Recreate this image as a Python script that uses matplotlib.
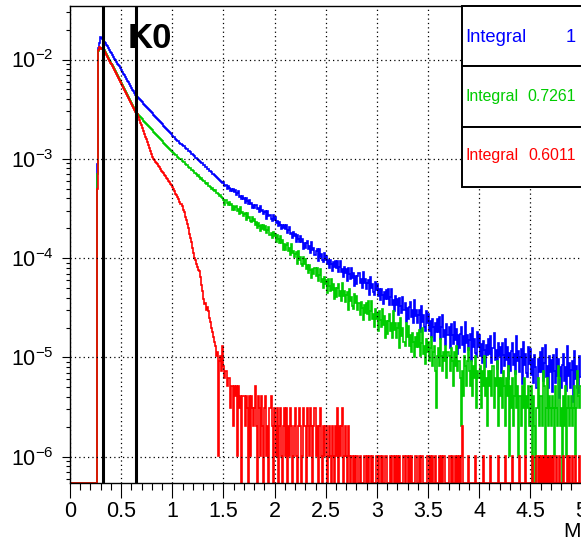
import numpy as np
import matplotlib
matplotlib.use("Agg")
import matplotlib.pyplot as plt
from matplotlib.patches import Rectangle
from matplotlib.ticker import MultipleLocator, LogLocator, FuncFormatter, NullFormatter

plt.rcParams['font.family'] = ['Liberation Sans', 'DejaVu Sans']

nan = float('nan')

# histogram binning: 500 bins of 0.01 from 0 to 5, filled from bin 26 (0.26) on
x_lo, x_hi, n_bins = 0.0, 5.0, 500
first_filled = 26

# log10 of bin contents, one row per 0.1 (first row 0.26-0.29), nan = empty bin
blue_log10 = [
    -3.05, -1.88, -1.83, -1.77,
    -1.78, -1.79, -1.81, -1.82, -1.83, -1.85, -1.86, -1.88, -1.90, -1.92,
    -1.93, -1.95, -1.97, -1.99, -2.00, -2.02, -2.04, -2.06, -2.07, -2.09,
    -2.11, -2.13, -2.15, -2.16, -2.18, -2.20, -2.22, -2.23, -2.25, -2.27,
    -2.29, -2.31, -2.32, -2.34, -2.36, -2.38, -2.39, -2.40, -2.41, -2.42,
    -2.43, -2.45, -2.46, -2.47, -2.48, -2.49, -2.50, -2.51, -2.52, -2.53,
    -2.54, -2.56, -2.57, -2.58, -2.59, -2.60, -2.61, -2.62, -2.63, -2.64,
    -2.65, -2.67, -2.68, -2.69, -2.70, -2.71, -2.72, -2.73, -2.74, -2.75,
    -2.77, -2.78, -2.78, -2.80, -2.81, -2.82, -2.82, -2.84, -2.85, -2.86,
    -2.87, -2.87, -2.89, -2.90, -2.90, -2.92, -2.92, -2.93, -2.95, -2.95,
    -2.96, -2.97, -2.99, -2.99, -3.00, -3.01, -3.02, -3.03, -3.04, -3.04,
    -3.06, -3.06, -3.08, -3.08, -3.10, -3.10, -3.12, -3.12, -3.13, -3.15,
    -3.15, -3.16, -3.17, -3.18, -3.19, -3.20, -3.21, -3.22, -3.23, -3.24,
    -3.23, -3.27, -3.26, -3.30, -3.27, -3.29, -3.32, -3.30, -3.32, -3.30,
    -3.33, -3.31, -3.36, -3.34, -3.32, -3.38, -3.37, -3.40, -3.37, -3.40,
    -3.39, -3.44, -3.39, -3.42, -3.45, -3.41, -3.45, -3.44, -3.50, -3.46,
    -3.50, -3.47, -3.46, -3.51, -3.50, -3.54, -3.48, -3.53, -3.52, -3.56,
    -3.54, -3.53, -3.61, -3.53, -3.58, -3.57, -3.61, -3.63, -3.57, -3.62,
    -3.59, -3.65, -3.63, -3.68, -3.64, -3.67, -3.71, -3.67, -3.70, -3.67,
    -3.71, -3.67, -3.75, -3.72, -3.69, -3.76, -3.75, -3.80, -3.74, -3.78,
    -3.76, -3.84, -3.77, -3.81, -3.84, -3.78, -3.84, -3.81, -3.91, -3.85,
    -3.90, -3.85, -3.83, -3.91, -3.88, -3.95, -3.84, -3.92, -3.90, -3.97,
    -3.93, -3.91, -4.03, -3.91, -3.99, -3.96, -4.02, -4.04, -3.95, -4.02,
    -3.98, -4.06, -4.02, -4.10, -4.02, -4.06, -4.13, -4.04, -4.09, -4.03,
    -4.10, -4.03, -4.14, -4.09, -4.03, -4.14, -4.11, -4.19, -4.09, -4.15,
    -4.11, -4.23, -4.10, -4.16, -4.21, -4.10, -4.20, -4.15, -4.28, -4.18,
    -4.26, -4.18, -4.15, -4.25, -4.21, -4.30, -4.14, -4.25, -4.21, -4.31,
    -4.25, -4.22, -4.37, -4.19, -4.30, -4.26, -4.34, -4.37, -4.24, -4.32,
    -4.26, -4.38, -4.31, -4.42, -4.31, -4.37, -4.46, -4.34, -4.41, -4.32,
    -4.41, -4.31, -4.47, -4.39, -4.31, -4.47, -4.42, -4.53, -4.38, -4.47,
    -4.41, -4.57, -4.40, -4.48, -4.55, -4.39, -4.52, -4.45, -4.64, -4.50,
    -4.61, -4.49, -4.44, -4.59, -4.52, -4.65, -4.42, -4.58, -4.52, -4.65,
    -4.57, -4.52, -4.74, -4.48, -4.64, -4.57, -4.69, -4.73, -4.53, -4.65,
    -4.56, -4.73, -4.63, -4.79, -4.61, -4.69, -4.83, -4.65, -4.74, -4.61,
    -4.74, -4.59, -4.81, -4.69, -4.57, -4.79, -4.72, -4.87, -4.66, -4.77,
    -4.69, -4.91, -4.66, -4.77, -4.86, -4.64, -4.82, -4.71, -4.97, -4.77,
    -4.91, -4.76, -4.69, -4.87, -4.78, -4.95, -4.64, -4.85, -4.77, -4.93,
    -4.82, -4.76, -5.04, -4.70, -4.90, -4.81, -4.96, -5.00, -4.74, -4.90,
    -4.77, -4.99, -4.86, -5.06, -4.83, -4.93, -5.10, -4.87, -4.98, -4.81,
    -4.97, -4.78, -5.06, -4.91, -4.75, -5.03, -4.93, -5.12, -4.85, -4.99,
    -4.89, -5.16, -4.85, -4.98, -5.09, -4.81, -5.03, -4.89, -5.22, -4.96,
    -5.14, -4.94, -4.85, -5.08, -4.97, -5.17, -4.78, -5.04, -4.94, -5.15,
    -5.00, -4.92, -5.27, -4.84, -5.08, -4.97, -5.16, -5.20, -4.89, -5.07,
    -4.92, -5.18, -5.02, -5.26, -4.98, -5.10, -5.31, -5.02, -5.15, -4.95,
    -5.15, -4.91, -5.24, -5.06, -4.87, -5.20, -5.09, -5.31, -4.99, -5.15,
    -5.03, -5.35, -4.98, -5.14, -5.26, -4.92, -5.19, -5.02, -5.41, -5.10,
    -5.31, -5.08, -4.97, -5.24, -5.10, -5.34, -4.88, -5.19, -5.06, -5.31,
    -5.13, -5.04, -5.45, -4.94, -5.22, -5.09, -5.31, -5.36, -4.99, -5.20,
]

green_log10 = [
    -3.15, -1.91, -1.89, -1.88,
    -1.88, -1.89, -1.90, -1.90, -1.92, -1.94, -1.96, -1.98, -2.00, -2.02,
    -2.04, -2.06, -2.08, -2.10, -2.12, -2.14, -2.16, -2.18, -2.20, -2.22,
    -2.24, -2.26, -2.28, -2.30, -2.32, -2.34, -2.36, -2.38, -2.40, -2.42,
    -2.44, -2.46, -2.48, -2.50, -2.52, -2.55, -2.56, -2.57, -2.58, -2.59,
    -2.60, -2.62, -2.63, -2.64, -2.65, -2.66, -2.67, -2.68, -2.69, -2.70,
    -2.71, -2.73, -2.74, -2.75, -2.76, -2.77, -2.78, -2.79, -2.80, -2.81,
    -2.82, -2.84, -2.85, -2.86, -2.87, -2.88, -2.89, -2.90, -2.91, -2.92,
    -2.93, -2.94, -2.95, -2.96, -2.96, -2.98, -2.99, -3.00, -3.00, -3.02,
    -3.03, -3.03, -3.05, -3.06, -3.06, -3.08, -3.09, -3.09, -3.11, -3.11,
    -3.12, -3.14, -3.14, -3.15, -3.17, -3.16, -3.18, -3.20, -3.19, -3.21,
    -3.22, -3.22, -3.24, -3.25, -3.24, -3.27, -3.27, -3.28, -3.30, -3.29,
    -3.31, -3.32, -3.31, -3.34, -3.34, -3.35, -3.37, -3.36, -3.38, -3.39,
    -3.41, -3.46, -3.41, -3.44, -3.47, -3.43, -3.47, -3.45, -3.52, -3.48,
    -3.52, -3.49, -3.48, -3.53, -3.51, -3.56, -3.49, -3.55, -3.54, -3.58,
    -3.56, -3.55, -3.62, -3.55, -3.60, -3.59, -3.63, -3.64, -3.59, -3.63,
    -3.61, -3.67, -3.64, -3.70, -3.65, -3.68, -3.73, -3.67, -3.71, -3.67,
    -3.72, -3.68, -3.75, -3.72, -3.69, -3.77, -3.75, -3.80, -3.74, -3.78,
    -3.76, -3.84, -3.77, -3.81, -3.85, -3.78, -3.85, -3.82, -3.92, -3.86,
    -3.92, -3.87, -3.85, -3.93, -3.90, -3.97, -3.86, -3.95, -3.93, -3.99,
    -3.96, -3.94, -4.06, -3.93, -4.02, -3.99, -4.06, -4.08, -3.99, -4.06,
    -4.01, -4.11, -4.07, -4.15, -4.07, -4.12, -4.20, -4.11, -4.16, -4.10,
    -4.18, -4.10, -4.23, -4.17, -4.11, -4.24, -4.21, -4.30, -4.19, -4.26,
    -4.22, -4.35, -4.21, -4.28, -4.33, -4.21, -4.32, -4.26, -4.41, -4.30,
    -4.39, -4.30, -4.26, -4.38, -4.33, -4.43, -4.25, -4.38, -4.33, -4.44,
    -4.37, -4.34, -4.52, -4.31, -4.43, -4.39, -4.48, -4.51, -4.36, -4.45,
    -4.38, -4.52, -4.45, -4.57, -4.44, -4.50, -4.62, -4.47, -4.55, -4.45,
    -4.56, -4.43, -4.62, -4.53, -4.43, -4.61, -4.56, -4.69, -4.51, -4.61,
    -4.55, -4.73, -4.53, -4.62, -4.69, -4.51, -4.67, -4.58, -4.80, -4.63,
    -4.76, -4.63, -4.56, -4.73, -4.65, -4.80, -4.53, -4.72, -4.65, -4.80,
    -4.70, -4.65, -4.91, -4.60, -4.78, -4.70, -4.84, -4.88, -4.65, -4.79,
    -4.68, -4.88, -4.77, -4.95, -4.75, -4.84, -5.00, -4.79, -4.90, -4.75,
    -4.90, -4.72, -4.99, -4.85, -4.70, -4.97, -4.88, -5.07, -4.81, -4.95,
    -4.84, -5.04, -4.91, -4.79, -5.09, -4.95, -4.88, -5.14, -5.51, -4.99,
    -4.91, -5.09, -4.81, -4.99, -5.14, -4.95, -5.04, -4.88, -5.21, -4.95,
    -4.99, -5.14, -4.91, -5.04, -5.29, -4.95, -5.09, -4.88, -5.14, -5.04,
    -5.04, -5.21, -5.69, -5.14, -5.39, -4.99, -5.09, -5.29, -5.04, -4.91,
    -5.14, -5.29, -5.04, -5.39, -5.09, -5.21, -4.99, -5.51, -5.14, -5.21,
    -5.21, -5.09, -5.51, -5.14, -5.29, -4.99, -5.39, -5.21, -5.69, -5.14,
    -5.29, -5.14, -5.39, -5.09, -5.51, -5.21, -5.29, -5.04, -5.69, -5.21,
    -5.39, -5.21, -5.51, -5.14, -5.29, -5.69, -5.21, -5.39, -5.09, -5.99,
    -5.29, -5.51, -5.21, -5.69, -5.39, -5.14, -5.51, -5.29, -5.99, -5.39,
    -5.39, -5.69, -5.29, -5.51, -5.21, -5.99, -5.39, -5.51, -5.29, -5.69,
    -5.51, -5.29, nan, -5.39, -5.69, nan, -5.51, -5.21, -5.69, -5.39,
    -5.39, -5.69, -5.14, -5.29, -5.99, -5.51, -5.21, -5.69, -5.39, -5.51,
    -5.69, -5.39, -5.51, -5.99, -5.29, -5.51, -5.69, -5.09, -5.21, -5.69,
    -5.51, nan, -5.39, -5.69, -5.29, -5.99, -5.51, -5.39, -5.69, -5.51,
    -5.39, -5.69, -5.51, -5.29, -5.99, -5.51, -5.14, -5.39, -5.51, -5.29,
]

red_log10 = [
    -3.30, -1.90, -1.87, -1.88,
    -1.89, -1.89, -1.90, -1.91, -1.93, -1.95, -1.97, -1.99, -2.01, -2.03,
    -2.05, -2.07, -2.09, -2.11, -2.13, -2.15, -2.17, -2.19, -2.21, -2.23,
    -2.25, -2.27, -2.29, -2.31, -2.33, -2.35, -2.37, -2.39, -2.41, -2.43,
    -2.45, -2.47, -2.49, -2.51, -2.53, -2.55, -2.58, -2.61, -2.64, -2.66,
    -2.69, -2.72, -2.75, -2.78, -2.80, -2.83, -2.86, -2.89, -2.92, -2.95,
    -2.98, -3.00, -3.01, -3.03, -3.04, -3.05, -3.07, -3.08, -3.10, -3.12,
    -3.13, -3.14, -3.16, -3.17, -3.19, -3.20, -3.22, -3.23, -3.25, -3.26,
    -3.28, -3.30, -3.32, -3.35, -3.36, -3.38, -3.40, -3.43, -3.45, -3.48,
    -3.52, -3.54, -3.59, -3.62, -3.66, -3.70, -3.76, -3.80, -3.84, -3.90,
    -3.95, -4.00, -4.02, -4.06, -4.09, -4.12, -4.13, -4.19, -4.27, -4.33,
    -4.41, -4.46, -4.45, -4.52, -4.49, -4.53, -4.60, -4.64, -4.70, -4.74,
    -4.79, -4.84, -4.88, -4.99, -4.95, -5.99, -5.04, -4.99, -5.14, -4.88,
    -5.09, -5.21, -5.14, -5.29, -5.21, -5.21, -5.51, -5.29, -5.29, -5.69,
    -5.29, -5.39, -5.29, -5.99, -5.29, -5.51, -5.39, nan, -5.39, -5.39,
    -5.39, -5.69, -5.39, -5.51, nan, -5.39, -5.99, -5.39, -5.51, -5.69,
    -5.51, -5.29, -5.69, nan, -5.39, -5.51, -5.99, -5.39, -5.69, nan,
    -5.51, -5.39, -5.99, -5.69, nan, -5.51, -5.39, -5.69, nan, -5.51,
    -5.69, -5.99, -5.51, nan, -5.69, -5.51, -5.99, nan, -5.69, -5.51,
    -5.99, -5.51, nan, -5.69, -5.99, -5.51, -5.69, nan, -5.99, -5.69,
    -5.51, -5.99, nan, -5.69, -5.51, -5.69, nan, -5.99, -5.51, -5.69,
    -5.69, nan, -5.51, -5.69, -5.99, -5.51, -5.69, nan, -5.69, -5.51,
    -5.99, -5.69, nan, -5.69, -5.51, -5.99, nan, -5.69, -5.99, -5.69,
    -5.69, nan, -5.99, -5.69, -5.99, nan, -5.69, -5.99, nan, -5.69,
    -5.99, -5.51, nan, -5.69, -5.99, -5.69, -5.51, nan, -5.99, -5.69,
    -5.99, nan, -5.69, -5.99, nan, -5.99, -5.99, nan, -5.99, nan,
    -5.99, -5.99, nan, -5.99, nan, nan, nan, -5.99, -5.99, nan,
    -5.99, nan, -5.99, -5.99, nan, -5.99, nan, nan, nan, -5.99,
    -5.99, nan, -5.99, -5.99, nan, -5.99, nan, nan, -5.99, -5.99,
    nan, nan, nan, -5.99, nan, -5.99, -5.99, nan, -5.99, nan,
    -5.99, nan, -5.99, nan, nan, nan, -5.99, nan, -5.99, -5.99,
    nan, -5.99, nan, -5.99, nan, nan, nan, -5.99, -5.99, nan,
    nan, -5.99, nan, -5.99, -5.99, nan, nan, nan, nan, -5.99,
    -5.99, nan, -5.99, nan, -5.99, nan, nan, -5.99, nan, nan,
    nan, -5.99, nan, -5.99, nan, -5.99, -5.99, nan, nan, nan,
    -5.99, -5.99, nan, -5.99, nan, nan, -5.99, nan, -5.99, nan,
    -5.99, nan, -5.99, -5.69, nan, nan, nan, nan, nan, -5.99,
    nan, nan, nan, nan, nan, nan, -5.99, nan, nan, nan,
    nan, nan, nan, nan, -5.99, nan, nan, nan, nan, nan,
    nan, -5.99, nan, nan, nan, nan, nan, nan, -5.99, nan,
    nan, nan, nan, nan, nan, -5.99, nan, nan, nan, nan,
    nan, nan, -5.99, nan, nan, nan, nan, nan, nan, -5.99,
    nan, nan, nan, nan, nan, -5.99, nan, nan, nan, nan,
    nan, nan, -5.99, nan, nan, nan, -5.99, nan, -5.99, nan,
    -5.99, nan, -5.99, nan, -5.99, nan, -5.99, nan, -5.99, nan,
    -5.99, nan, -5.99, nan, nan, -5.99, nan, nan, -5.99, nan,
    nan, nan, -5.99, nan, nan, nan, -5.99, nan, -5.99, nan,
    nan, -5.99, nan, nan, -5.99, nan, nan, nan, -5.99, nan,
]

series_colors = ['#0000ff', '#00cc00', '#ff0000']
integral_values = ['1', '0.7261', '0.6011']
k0_lines = [0.32, 0.65]

y_lo, y_hi = 5.4e-7, 3.46e-2

edges = np.linspace(x_lo, x_hi, n_bins + 1)


def contents(logs):
    out = np.full(n_bins, y_lo)
    vals = 10.0 ** np.array(logs, dtype=float)
    vals[np.isnan(vals)] = y_lo  # empty bins sit on the frame like in ROOT
    out[first_filled:first_filled + len(vals)] = vals[:n_bins - first_filled]
    return out


W, H = 581, 539
fig = plt.figure(figsize=(W / 100, H / 100), dpi=100)
ax = fig.add_axes([70 / W, (H - 483.3) / H, 511.5 / W, 477.3 / H])

for logs, col in zip([blue_log10, green_log10, red_log10], series_colors):
    ax.stairs(contents(logs), edges, color=col, lw=1.2, baseline=None)

for xv in k0_lines:
    ax.axvline(xv, color='black', lw=2.2, zorder=4)

ax.set_xlim(x_lo, x_hi)
ax.set_yscale('log')
ax.set_ylim(y_lo, y_hi)

ax.xaxis.set_major_locator(MultipleLocator(0.5))
ax.xaxis.set_minor_locator(MultipleLocator(0.1))
ax.xaxis.set_major_formatter(FuncFormatter(lambda v, p: f"{v:g}"))
ax.yaxis.set_major_locator(LogLocator(base=10, numticks=20))
ax.yaxis.set_minor_locator(LogLocator(base=10, subs=np.arange(2, 10), numticks=20))
ax.yaxis.set_minor_formatter(NullFormatter())

ax.tick_params(axis='x', which='major', direction='out', length=10.8, width=0.8,
               labelsize=15.5, pad=2)
ax.tick_params(axis='x', which='minor', direction='out', length=5, width=0.8)
ax.tick_params(axis='y', which='major', direction='out', length=5.8, width=0.8,
               labelsize=15.5, pad=6)
ax.tick_params(axis='y', which='minor', direction='out', length=3.2, width=0.8)
for sp in ax.spines.values():
    sp.set_linewidth(1.0)

ax.grid(True, which='major', color='black', linestyle=(0, (1, 2.5)), linewidth=0.9)


def fx(px):
    return px / W


def fy(py):
    return 1 - py / H


fig.text(fx(127.5), fy(48.3), 'K0', fontsize=25, fontweight='bold', va='baseline')
fig.text(fx(563.5), fy(536.7), 'Mass', fontsize=15, va='baseline')

# stat boxes on the top right, cut by the canvas edge
rows = [(6, 66.3), (66.3, 127), (127, 186.7)]
label_sizes = [13.2, 11.4, 11.4]
baselines = [41.5, 100.6, 159.6]
for (top, bot), col, val, fs, base in zip(rows, series_colors, integral_values,
                                          label_sizes, baselines):
    fig.add_artist(Rectangle((fx(461.7), fy(bot)), fx(700) - fx(461.7), fy(top) - fy(bot),
                             transform=fig.transFigure, facecolor='white',
                             edgecolor='black', lw=1.4, zorder=5))
    fig.text(fx(465.5), fy(base), 'Integral', color=col, fontsize=fs,
             va='baseline', ha='left', zorder=6)
    fig.text(fx(576), fy(base), val, color=col, fontsize=fs,
             va='baseline', ha='right', zorder=6)

fig.savefig('out.png', dpi=100)
